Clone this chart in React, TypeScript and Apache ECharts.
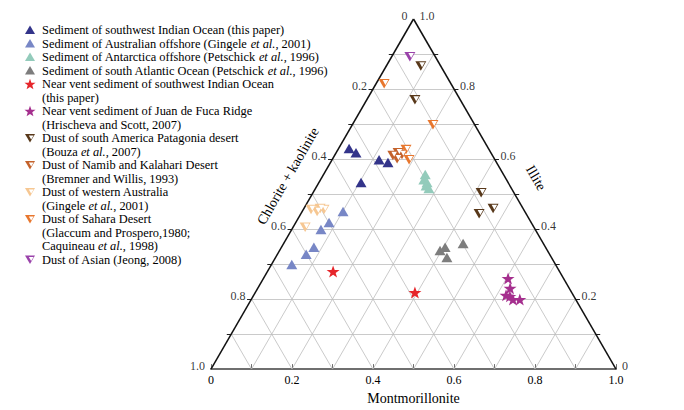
import React, { useEffect, useRef } from "react";
import * as echarts from "echarts";

const S3 = Math.sqrt(3) / 2;
const FONT = "Liberation Serif";

// ternary compositions [chlorite + kaolinite, montmorillonite, illite]
const swIndianSediment = [[0.344, 0.026, 0.63], [0.333, 0.049, 0.618], [0.286, 0.116, 0.598], [0.268, 0.142, 0.59], [0.363, 0.104, 0.533]];
const australianSediment = [[0.449, 0.101, 0.45], [0.499, 0.082, 0.419], [0.529, 0.072, 0.399], [0.572, 0.08, 0.348], [0.601, 0.071, 0.328], [0.651, 0.05, 0.299]];
const antarcticaSediment = [[0.193, 0.251, 0.556], [0.204, 0.255, 0.541], [0.2, 0.267, 0.533], [0.207, 0.269, 0.524], [0.204, 0.28, 0.516]];
const atlanticSediment = [[0.265, 0.396, 0.339], [0.248, 0.404, 0.348], [0.258, 0.423, 0.319], [0.198, 0.443, 0.359]];
const ventSWIndian = [[0.559, 0.162, 0.279], [0.387, 0.394, 0.219]];
const ventJuanDeFuca = [[0.137, 0.604, 0.259], [0.146, 0.623, 0.231], [0.166, 0.623, 0.211], [0.158, 0.634, 0.208], [0.155, 0.646, 0.199], [0.138, 0.663, 0.199]];
const dustPatagonia = [[0.049, 0.085, 0.866], [0.112, 0.119, 0.769], [0.081, 0.415, 0.504], [0.116, 0.44, 0.444], [0.074, 0.467, 0.459]];
const dustNamib = [[0.246, 0.144, 0.61], [0.229, 0.153, 0.618], [0.24, 0.159, 0.601], [0.222, 0.165, 0.613]];
const dustWAustralia = [[0.525, 0.019, 0.456], [0.513, 0.037, 0.45], [0.501, 0.04, 0.459], [0.493, 0.051, 0.456], [0.565, 0.03, 0.405]];
const dustSahara = [[0.165, 0.02, 0.815], [0.103, 0.199, 0.698], [0.205, 0.168, 0.627], [0.212, 0.19, 0.598]];
const dustAsian = [[0.063, 0.045, 0.892]];

const gridSteps = [0.1, 0.2, 0.3, 0.4, 0.5, 0.6, 0.7, 0.8, 0.9];
const tickValues = [0, 0.2, 0.4, 0.6, 0.8, 1.0];

const seriesNames = [
  "Sediment of southwest Indian Ocean (this paper)",
  "Sediment of Australian offshore (Gingele et al., 2001)",
  "Sediment of Antarctica offshore (Petschick et al., 1996)",
  "Sediment of south Atlantic Ocean (Petschick et al., 1996)",
  "Near vent sediment of southwest Indian Ocean (this paper)",
  "Near vent sediment of Juan de Fuca Ridge (Hrischeva and Scott, 2007)",
  "Dust of south America Patagonia desert (Bouza et al., 2007)",
  "Dust of Namib and Kalahari Desert (Bremner and Willis, 1993)",
  "Dust of western Australia (Gingele et al., 2001)",
  "Dust of Sahara Desert (Glaccum and Prospero,1980; Caquineau et al., 1998)",
  "Dust of Asian (Jeong, 2008)",
];

const legendLines = [
  ["Sediment of southwest Indian Ocean (this paper)"],
  ["Sediment of Australian offshore (Gingele {i|et al.}, 2001)"],
  ["Sediment of Antarctica offshore (Petschick {i|et al.}, 1996)"],
  ["Sediment of south Atlantic Ocean (Petschick {i|et al.}, 1996)"],
  ["Near vent sediment of southwest Indian Ocean", "(this paper)"],
  ["Near vent sediment of Juan de Fuca Ridge", "(Hrischeva and Scott, 2007)"],
  ["Dust of south America Patagonia desert", "(Bouza {i|et al.}, 2007)"],
  ["Dust of Namib and Kalahari Desert", "(Bremner and Willis, 1993)"],
  ["Dust of western Australia", "(Gingele {i|et al.}, 2001)"],
  ["Dust of Sahara Desert", "(Glaccum and Prospero,1980;", "Caquineau {i|et al.}, 1998)"],
  ["Dust of Asian (Jeong, 2008)"],
];

const COLORS = ["#33348a", "#7887c6", "#93cbbb", "#7d7d7d", "#e6262b", "#a52f8e", "#58381a", "#c4622b", "#f6c792", "#e8772e", "#9a42aa"];
const KINDS = ["up", "up", "up", "up", "star", "star", "down", "down", "down", "down", "down"];
const DATASETS = [swIndianSediment, australianSediment, antarcticaSediment, atlanticSediment, ventSWIndian, ventJuanDeFuca, dustPatagonia, dustNamib, dustWAustralia, dustSahara, dustAsian];

const UP_PATH = "path://M5,0 L10,8.66 L0,8.66 Z";
const DOWN_PATH = "path://M0,0 L10,0 L5,8.66 Z";
const STAR_PATH = "path://M50,0 L61.8,35.1 L98.1,35.1 L68.8,56.8 L79.4,91 L50,70 L20.6,91 L31.2,56.8 L1.9,35.1 L38.2,35.1 Z";

function toXY(t: number[]) {
  const s = t[0] + t[1] + t[2];
  const m = t[1] / s;
  const i = t[2] / s;
  return [m + i / 2, i * S3];
}

function fmt(v: number) {
  return v === 0 ? "0" : v.toFixed(1);
}

function buildOption() {
  const gridLines: any[] = [];
  gridSteps.forEach((v) => {
    gridLines.push({ coords: [toXY([1 - v, 0, v]), toXY([0, 1 - v, v])] });
    gridLines.push({ coords: [toXY([1 - v, v, 0]), toXY([0, v, 1 - v])] });
    gridLines.push({ coords: [toXY([v, 1 - v, 0]), toXY([v, 0, 1 - v])] });
  });
  const edgeLines = [
    { coords: [toXY([1, 0, 0]), toXY([0, 0, 1])] },
    { coords: [toXY([0, 1, 0]), toXY([0, 0, 1])] },
  ];
  const edgeTicks: any[] = [];
  gridSteps.forEach((v) => {
    const l = toXY([1 - v, 0, v]);
    edgeTicks.push({ coords: [l, [l[0] - 0.011, l[1]]] });
    const r = toXY([0, 1 - v, v]);
    edgeTicks.push({ coords: [r, [r[0] + 0.011, r[1]]] });
  });

  const leftTickData = tickValues.map((iv) => ({ name: fmt(+(1 - iv).toFixed(1)), value: toXY([1 - iv, 0, iv]) }));
  const rightTickData = tickValues.map((iv) => ({ name: fmt(iv), value: toXY([0, 1 - iv, iv]) }));

  const series: any[] = [
    { type: "lines", coordinateSystem: "cartesian2d", silent: true, z: 1, data: gridLines, lineStyle: { color: "#bdbdbd", width: 0.8, opacity: 1 } },
    { type: "lines", coordinateSystem: "cartesian2d", silent: true, z: 2, data: edgeTicks, lineStyle: { color: "#222", width: 1, opacity: 1 } },
    { type: "lines", coordinateSystem: "cartesian2d", silent: true, z: 2, data: edgeLines, lineStyle: { color: "#111", width: 1.5, opacity: 1 } },
    {
      type: "scatter", silent: true, symbolSize: 0, data: leftTickData,
      label: { show: true, position: "left", distance: 6, offset: [0, -3], formatter: "{b}", color: "#000", fontSize: 12, fontFamily: FONT },
    },
    {
      type: "scatter", silent: true, symbolSize: 0, data: rightTickData,
      label: { show: true, position: "right", distance: 6, offset: [0, -3], formatter: "{b}", color: "#000", fontSize: 12, fontFamily: FONT },
    },
  ];

  DATASETS.forEach((ds, k) => {
    const pts = ds.map(toXY);
    const kind = KINDS[k];
    const symbol = kind === "up" ? UP_PATH : kind === "down" ? DOWN_PATH : STAR_PATH;
    const size = kind === "star" ? [13, 12] : [11, 9.5];
    series.push({
      type: "scatter", name: seriesNames[k], data: pts, symbol, symbolSize: size, z: 5,
      itemStyle: { color: COLORS[k], opacity: 1 },
    });
    if (kind === "down") {
      series.push({
        type: "scatter", name: seriesNames[k] + " inner", data: pts, symbol: DOWN_PATH, symbolSize: [5.5, 5],
        symbolOffset: [1.3, -1.2], z: 6, silent: true, itemStyle: { color: "#ffffff", opacity: 1 },
      });
    }
  });

  // legend drawn with graphic elements
  const graphic: any[] = [];
  const LX = 30;
  const TX = 42;
  const Y0 = 30;
  const DY = 13.5;
  let line = 0;
  legendLines.forEach((lines, k) => {
    const y = Y0 + line * DY;
    const c = COLORS[k];
    const kind = KINDS[k];
    if (kind === "up") {
      graphic.push({ type: "polygon", shape: { points: [[LX, y - 4.5], [LX + 5, y + 4], [LX - 5, y + 4]] }, style: { fill: c } });
    } else if (kind === "down") {
      graphic.push({ type: "polygon", shape: { points: [[LX - 5, y - 4], [LX + 5, y - 4], [LX, y + 4.5]] }, style: { fill: c } });
      graphic.push({ type: "polygon", shape: { points: [[LX - 1.2, y - 2.6], [LX + 3.6, y - 2.6], [LX + 1.2, y + 1.6]] }, style: { fill: "#fff" } });
    } else {
      const pts: number[][] = [];
      for (let j = 0; j < 10; j++) {
        const r = j % 2 === 0 ? 5.8 : 2.4;
        const a = -Math.PI / 2 + (j * Math.PI) / 5;
        pts.push([LX + r * Math.cos(a), y + 0.6 + r * Math.sin(a)]);
      }
      graphic.push({ type: "polygon", shape: { points: pts }, style: { fill: c } });
    }
    lines.forEach((t) => {
      graphic.push({
        type: "text", x: TX, y: Y0 + line * DY,
        style: {
          text: t, fill: "#000", fontSize: 12.4, fontFamily: FONT,
          align: "left", verticalAlign: "middle",
          rich: { i: { fontStyle: "italic", fontSize: 12.4, fontFamily: FONT, fill: "#000" } },
        },
      });
      line++;
    });
  });

  graphic.push({
    type: "text", x: 288, y: 176, rotation: Math.PI / 3,
    style: { text: "Chlorite + kaolinite", fill: "#000", fontSize: 14, fontFamily: FONT, align: "center", verticalAlign: "middle" },
  });
  graphic.push({
    type: "text", x: 536, y: 178, rotation: -Math.PI / 3,
    style: { text: "Illite", fill: "#000", fontSize: 14, fontFamily: FONT, align: "center", verticalAlign: "middle" },
  });

  return {
    animation: false,
    backgroundColor: "#ffffff",
    grid: { left: 211, top: 19, width: 405, height: 350.7 },
    xAxis: {
      type: "value", min: 0, max: 1, interval: 0.2,
      axisLine: { show: true, onZero: false, lineStyle: { color: "#6f6f6f", width: 2 } },
      axisTick: { show: true, inside: true, length: 5, lineStyle: { color: "#6f6f6f" } },
      minorTick: { show: true, splitNumber: 2, length: 5, lineStyle: { color: "#6f6f6f" } },
      splitLine: { show: false },
      axisLabel: { margin: 5, color: "#000", fontSize: 12, fontFamily: FONT, formatter: (v: number) => fmt(v) },
      name: "Montmorillonite", nameLocation: "middle", nameGap: 19,
      nameTextStyle: { color: "#000", fontSize: 14, fontFamily: FONT },
    },
    yAxis: { type: "value", min: 0, max: S3, show: false },
    graphic,
    series,
  };
}

export default function App() {
  const ref = useRef<HTMLDivElement>(null);
  useEffect(() => {
    const chart = echarts.init(ref.current as HTMLDivElement, null, { renderer: "svg" });
    chart.setOption(buildOption() as any);
    return () => chart.dispose();
  }, []);
  return <div ref={ref} style={{ position: "absolute", left: 0, top: 0, width: 684, height: 410 }} />;
}
